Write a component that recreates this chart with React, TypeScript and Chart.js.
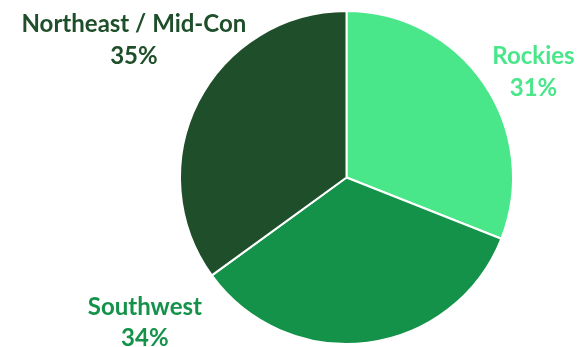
import React, { useEffect, useRef } from "react";
import { Chart, registerables } from "chart.js";

Chart.register(...registerables);

const categories = ["Rockies", "Southwest", "Northeast / Mid-Con"];
const shares = [31, 34, 35];
const percentLabels = ["31%", "34%", "35%"];
const sliceColors = ["#4AE68A", "#15924A", "#1F4F2A"];
// label first-line baseline offsets, in units of the pie radius, from pie centre
const labelOffsets = [
  [1.123, -0.681],
  [-1.211, 0.825],
  [-1.277, -0.873],
];

const labelPlugin = {
  id: "outerLabels",
  afterDraw(chart: any) {
    const ctx = chart.ctx;
    const meta = chart.getDatasetMeta(0);
    ctx.save();
    ctx.font = "bold 24px Lato, 'Open Sans', sans-serif";
    ctx.textAlign = "center";
    ctx.textBaseline = "alphabetic";
    meta.data.forEach((arc: any, i: number) => {
      const r = arc.outerRadius;
      const cx = arc.x + labelOffsets[i][0] * r;
      const cy = arc.y + labelOffsets[i][1] * r;
      ctx.fillStyle = sliceColors[i];
      ctx.fillText(categories[i], cx, cy);
      ctx.fillText(percentLabels[i], cx, cy + 31.5);
    });
    ctx.restore();
  },
};

export default function App() {
  const ref = useRef<HTMLCanvasElement>(null);
  useEffect(() => {
    if (!ref.current) return;
    const chart = new Chart(ref.current, {
      type: "pie",
      data: {
        labels: categories,
        datasets: [
          {
            data: shares,
            backgroundColor: sliceColors,
            borderColor: "#FFFFFF",
            borderWidth: 2,
          },
        ],
      },
      options: {
        responsive: false,
        animation: false,
        layout: { padding: { top: 10, bottom: 2, left: 179, right: 63 } },
        plugins: {
          legend: { display: false },
          tooltip: { enabled: false },
        },
      },
      plugins: [labelPlugin],
    });
    return () => chart.destroy();
  }, []);
  return (
    <div style={{ position: "fixed", left: 0, top: 0, width: 577, height: 347, background: "#fff" }}>
      <canvas ref={ref} width={577} height={347} />
    </div>
  );
}
